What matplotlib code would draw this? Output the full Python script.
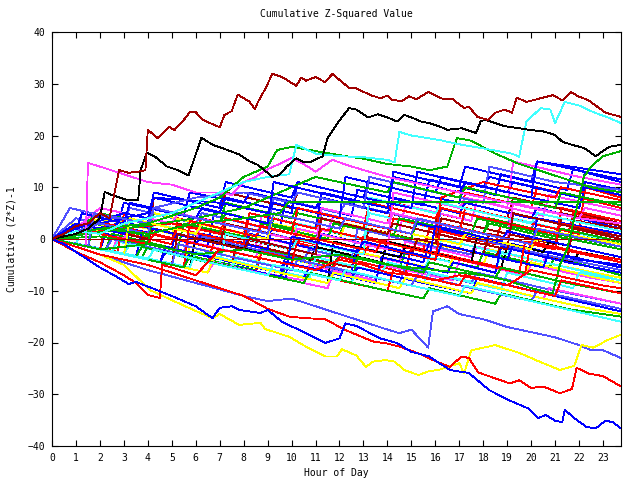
import matplotlib
matplotlib.use("Agg")
import matplotlib.pyplot as plt

# gnuplot style colours
RED = "#ff0000"
GREEN = "#00b000"
BLUE = "#0000ff"
MAGENTA = "#ff40ff"
CYAN = "#40ffff"
DKRED = "#a00000"
YELLOW = "#ffff00"
SLATE = "#5050ff"
BLACK = "#000000"

# bulk of the walks, read as (hour, value) knots
bulk_walks = [
    [(0, 0), (2, -2), (2.25, 2), (5, -1), (5.25, 4), (8, 1), (8.25, 5), (11, 2), (11.25, 6), (14, 3), (14.25, 7), (17, 4), (17.25, 9), (20, 6), (20.25, 10), (23.75, 6)],
    [(0, 0), (1.5, -1.5), (1.75, 3), (4, 0.5), (4.25, 5), (7, 2), (9, 0), (9.25, 4), (12, 1), (12.25, 3), (15, 0), (15.25, 4), (18, 1), (18.25, 3), (21, 0), (21.25, 2), (23.75, -1)],
    [(0, 0), (3.5, -3.5), (3.75, 1.5), (6.5, -1.5), (6.75, 4.5), (9.5, 1.5), (9.75, 7.5), (12.5, 4.5), (12.75, 9.5), (15.5, 6.5), (15.75, 11.5), (18.5, 8.5), (18.75, 12.5), (21.5, 9.5), (21.75, 13.5), (23.75, 11)],
    [(0, 0), (2.5, -2.5), (2.75, 0.5), (5.5, -2.5), (5.75, -0.5), (8.5, -3.5), (8.75, -0.5), (11.5, -3.5), (11.75, -1.5), (14.5, -4.5), (14.75, -0.5), (17.5, -3.5), (17.75, -1.5), (20.5, -4.5), (20.75, -2.5), (23.75, -5.5)],
    [(0, 0), (1, -1), (1.25, 2), (4, -1), (4.25, 3), (7, 0), (7.25, 4), (10, 1), (10.25, 3), (13, 0), (13.25, 5), (16, 2), (16.25, 4), (19, 1), (19.25, 4), (22, 1), (23.75, -0.5)],
    [(0, 0), (2, -2), (2.25, 1), (4, -1), (4.25, 8), (7, 5), (7.25, 9), (10, 6), (10.25, 9), (13, 6), (16, 3), (16.25, 7), (19, 4), (19.25, 8), (22, 5), (23.75, 3)],
    [(0, 0), (0.75, 3), (2, 1.5), (2.25, 4), (5, 1), (5.25, 3), (8, 0), (10, -2), (10.25, 1), (13, -2), (13.25, 0), (16, -3), (18, -5), (18.25, -2), (21, -5), (23.75, -7.5)],
    [(0, 0), (0.75, 6), (3, 3.5), (3.25, 6), (6, 3), (6.25, 5), (9, 2), (9.25, 8), (12, 5), (12.25, 7), (15, 4), (17, 2), (17.25, 5), (20, 2), (20.25, 4), (23.75, 0.5)],
    [(0, 0), (2, -2), (2.25, 1), (5, -2), (5.25, 3), (8, 0), (8.25, 5), (11, 2), (11.25, 9), (14, 6), (14.25, 13), (17, 10), (17.25, 14), (20, 11), (20.25, 15), (23.75, 11.5)],
    [(0, 0), (3.5, -3.5), (3.75, -1.5), (6.5, -4.5), (6.75, -0.5), (9.75, -3.5), (10, -0.5), (12.75, -3.5), (13, 0.5), (15.5, -2), (15.75, 2), (18.5, -1), (18.75, 3), (21.5, 0), (21.75, 5), (23.75, 2.5)],
    [(0, 0), (3.75, -3.5), (4, -1.5), (7, -4.5), (8.5, -6), (8.75, -2), (11.75, -5), (12, -3), (14.5, -5.5), (14.75, -2.5), (17.75, -5.5), (18, -2.5), (20.75, -5.5), (21, -3.5), (23.75, -7)],
    [(0, 0), (1, 2), (2, 5), (4, 3), (4.25, 9), (7, 6), (7.25, 11), (10, 8), (10.25, 11), (13, 8), (13.25, 12), (16, 9), (16.25, 12), (19, 9), (19.25, 11), (22, 8), (22.25, 11), (23.75, 9.5)],
    [(0, 0), (2.5, -2.5), (2.75, 0.5), (5.5, -2.5), (5.75, 1.5), (8.5, -1.5), (8.75, 4.5), (11.5, 1.5), (11.75, 4.5), (14.5, 1.5), (14.75, 6.5), (17.5, 3.5), (17.75, 7.5), (20.5, 4.5), (20.75, 8.5), (23.75, 5.5)],
    [(0, 0), (2.5, -2.5), (2.75, -0.5), (5.5, -3.5), (7.5, -5.5), (7.75, -1.5), (10.5, -4.5), (10.75, -1.5), (13.5, -4.5), (15.5, -6.5), (15.75, -3.5), (18.5, -6.5), (18.75, -2.5), (21.5, -5.5), (23.75, -8)],
    [(0, 0), (2, -2), (2.25, 3), (5, 0), (5.25, 3), (8, 0), (10, -2), (10.25, 2), (13, -1), (13.25, 2), (16, -1), (16.25, 4), (19, 1), (21, -1), (21.25, 5), (23.75, 2.5)],
    [(0, 0), (1, 2), (2, 4), (4, 2), (4.25, 5), (7, 2), (9, 0), (9.25, 3), (12, 0), (12.25, 3), (15, 0), (17, -2), (17.25, 1), (20, -2), (20.25, 0), (23.75, -3.5)],
    [(0, 0), (1, 4), (3, 2), (3.25, 4), (6, 1), (8, -1), (8.25, 2), (11, -1), (11.25, 5), (14, 2), (16, 0), (16.25, 6), (19, 3), (19.25, 5), (22, 2), (23.75, 0)],
    [(0, 0), (3.5, -3.5), (5.75, -5.5), (6, 0.5), (8.75, -2.5), (10.75, -4.5), (11, -1.5), (13.75, -4.5), (14, -0.5), (16.75, -3.5), (18.75, -5.5), (19, -1.5), (21.75, -4.5), (22, -2.5), (23.75, -4)],
    [(0, 0), (2.75, -2.5), (3, 5), (6, 2), (6.25, 4), (9, 1), (11, -1), (11.25, 2), (14, -1), (14.25, 4), (17, 1), (17.25, 6), (20, 3), (22, 1), (22.25, 10), (23.75, 8)],
    [(0, 0), (2.25, -2), (2.5, 1), (5.25, -2), (5.5, 3), (8.5, 0), (8.75, 3), (11.5, 0), (11.75, 3), (14.25, 0.5), (14.5, 4), (17.5, 1), (17.75, 4), (20.5, 1), (23.75, -2)],
    [(0, 0), (1, 1), (2.75, 3), (3, 7), (5.5, 4.5), (5.75, 9), (8, 7), (8.25, 9), (11, 6), (11.25, 8), (14, 5), (14.25, 8), (17, 5), (17.25, 7), (20, 4), (20.25, 6), (23.75, 2)],
    [(0, 0), (3.5, -3.5), (5.5, -5.5), (5.75, -3.5), (8.75, -6.5), (10.5, -8), (10.75, -5), (13.5, -8), (13.75, -5), (16.75, -8), (17, -4), (19.75, -7), (20, -5), (22.5, -7.5), (23.75, -8.5)],
    [(0, 0), (1, 2), (3, 0), (3.25, 3), (6, 0), (6.25, 3), (9, 0), (11, -2), (11.25, 1), (14, -2), (16, -4), (16.25, 0), (19, -3), (19.25, -1), (22, -4), (23.75, -5)],
    [(0, 0), (2.5, -2.5), (4.5, -4.5), (4.75, -1.5), (7.5, -4.5), (7.75, -0.5), (10.5, -3.5), (12.5, -5.5), (12.75, -1.5), (15.5, -4.5), (15.75, -0.5), (18.5, -3.5), (18.75, -1.5), (21.5, -4), (21.75, 2), (23.75, 0)],
    [(0, 0), (3.75, -3.5), (5.5, -5.5), (5.75, -1.5), (8.5, -4.5), (8.75, -2.5), (11.5, -5.5), (11.75, -1.5), (14.75, -4.5), (16.5, -6.5), (16.75, -3.5), (19.75, -6.5), (20, -4.5), (22.75, -7.5), (23.75, -8.5)],
    [(0, 0), (2.25, -2), (2.5, 0), (5.5, -3), (5.75, 1), (8.5, -2), (10.5, -4), (10.75, -2), (12.5, -4), (12.75, 2), (15.5, -1), (17.5, -3), (17.75, 0), (20.5, -3), (23.75, -6)],
    [(0, 0), (3, -3), (3.25, 2), (6, -1), (6.25, 1), (9, -2), (9.25, 5), (12, 2), (12.25, 4), (15, 1), (15.25, 3), (18, 0), (20, -2), (20.25, 4), (23.75, 1)],
    [(0, 0), (3.5, -3.5), (5.5, -5.5), (5.75, -3.5), (8.5, -6.5), (8.75, -2.5), (11.75, -5.5), (12, -3.5), (14.75, -6.5), (15, -1.5), (17.75, -4.5), (19.75, -6.5), (20, -0.5), (22.5, -3), (23.75, -4)],
    [(0, 0), (1, 2), (2, 5), (4, 3), (4.25, 6), (7, 3), (7.25, 7), (10, 4), (10.25, 6), (13, 3), (15, 1), (15.25, 4), (18, 1), (18.25, 4), (21, 1), (23.75, -1.5)],
    [(0, 0), (2.5, -2.5), (4.5, -4.5), (4.75, -1.5), (7.5, -4.5), (9.5, -6.5), (9.75, -3.5), (12.5, -6.5), (12.75, -1.5), (15.5, -4.5), (15.75, -0.5), (18.5, -3.5), (20.5, -5.5), (20.75, -2.5), (23.75, -5.5)],
    [(0, 0), (1, 2), (3, 0), (3.25, 3), (6, 0), (6.25, 3), (9, 0), (11, -2), (11.25, 6), (14, 3), (14.25, 5), (17, 2), (19, 0), (19.25, 7), (22, 4), (22.25, 6), (23.75, 4.5)],
    [(0, 0), (3.75, -3.5), (5.75, -5.5), (6, -2.5), (8.75, -5.5), (10.75, -7.5), (11, -3.5), (13.75, -6.5), (14, -4.5), (16.75, -7.5), (18.75, -9.5), (19, -6.5), (21.75, -9.5), (22, -6.5), (23.75, -8)],
    [(0, 0), (1, 1), (2, 2), (4, 0), (4.25, 2), (7, -1), (7.25, 3), (10, 0), (10.25, 2), (13, -1), (15, -3), (15.25, 0), (18, -3), (18.25, 1), (21, -2), (21.25, 4), (23.75, 2)],
    [(0, 0), (1, 3), (3, 1), (3.25, 3), (6, 0), (8, -2), (8.25, 1), (11, -2), (11.25, 1), (14, -2), (16, -4), (16.25, -1), (19, -4), (19.25, -1), (22, -4), (23.75, -5)],
    [(0, 0), (2, -2), (2.25, 3), (5, 0), (5.25, 2), (8, -1), (8.25, 5), (11, 2), (11.25, 4), (13, 2), (13.25, 7), (16, 4), (16.25, 6), (19, 3), (21, 1), (21.25, 3), (23.75, 0.5)],
    [(0, 0), (2.5, -2.5), (4.5, -4.5), (6.5, -6.5), (6.75, -3.5), (9.5, -6.5), (11.5, -8.5), (11.75, -5.5), (14.5, -8.5), (14.75, -5.5), (17.5, -8.5), (17.75, -6.5), (20.5, -9.5), (23.75, -12.5)],
    [(0, 0), (2, 0.5), (4, -1), (4.25, 6), (7, 3), (7.25, 5), (10, 2), (10.25, 5), (13, 2), (15, 0), (15.25, 4), (18, 1), (18.25, 3), (21, 0), (21.25, 2), (23.75, -0.5)],
    [(0, 0), (3.5, -3.5), (6.5, -6.5), (6.75, -3.5), (9.5, -6.5), (11.5, -8.5), (11.75, -0.5), (14.5, -3.5), (14.75, -1.5), (17.5, -4.5), (17.75, 0.5), (20.5, -2.5), (20.75, -0.5), (23.75, -3.5)],
    [(0, 0), (2.5, -2.5), (5.5, -5.5), (5.75, -2.5), (8.5, -5.5), (10.5, -7.5), (10.75, -5.5), (13.5, -8.5), (13.75, -3.5), (16.5, -6.5), (16.75, -4.5), (18.5, -6.5), (18.75, -1.5), (21.5, -4.5), (23.75, -6.5)],
    [(0, 0), (1, 2), (4, -1), (4.25, 1), (7, -2), (10, -5), (10.25, 0), (13, -3), (13.25, -1), (16, -4), (16.25, 3), (19, 0), (21, -2), (21.25, 6), (23.75, 3.5)],
    [(0, 0), (1, 2), (2, 6), (5, 3), (5.25, 5), (8, 2), (10, 0), (10.25, 2), (13, -1), (14, -2), (14.25, 9), (17, 6), (17.25, 8), (19, 6), (19.25, 15), (22, 12), (23.75, 10.5)],
    [(0, 0), (3, -3), (3.25, -1), (6, -4), (7, -5), (7.25, 1), (10, -2), (10.25, 0), (13, -3), (13.25, 8), (16, 5), (16.25, 7), (19, 4), (20, 3), (20.25, 5), (23.75, 1.5)],
    [(0, 0), (1, 2), (3, 5), (4, 4), (4.25, 8), (7, 5), (7.25, 8), (10, 5), (10.25, 11), (13, 8), (15, 6), (15.25, 13), (18, 10), (18.25, 12), (21, 9), (22, 8), (22.25, 13), (23.75, 11.5)],
    [(0, 0), (2, 3), (4, 5), (4.25, 8), (7, 7), (9, 5), (9.25, 7), (12, 4), (12.25, 12), (15, 9), (17, 7), (17.25, 11), (20, 8), (22, 6), (22.25, 10), (23.75, 8.5)],
    [(0, 0), (2, 3), (4, 1), (4.25, 6), (6, 8), (8, 9), (10, 7), (10.25, 9), (13, 6), (13.25, 12), (16, 9), (18, 7), (18.25, 14), (21, 11), (23.75, 9.5)],
    [(0, 0), (2, 1.5), (5, 3), (7, 1), (7.25, 4), (10, 1), (10.25, 6), (13, 3), (16, 0), (16.25, 8), (18, 11), (21, 8), (21.25, 10), (23.75, 7.5)],
    [(0, 0), (3, 2), (6, 4), (8, 6), (11, 12), (14, 9), (14.25, 11), (17, 8), (17.25, 10), (20, 7), (21, 6), (21.25, 9), (23.75, 6.5)],
    [(0, 0), (2, -2), (5, -5), (5.25, 1), (8, -2), (8.25, 0), (11, -3), (11.25, 4), (14, 1), (14.25, 3), (17, 0), (19, -2), (19.25, 5), (22, 2), (23.75, 0.5)],
    [(0, 0), (3, -3), (3.25, 4), (6, 1), (6.25, 3), (9, 0), (9.25, 5), (12, 2), (12.25, 4), (15, 1), (17, -1), (17.25, 1), (20, -2), (20.25, 2), (23.75, -1)],
    [(0, 0), (3.5, -3.5), (6.5, -6.5), (6.75, -4.5), (9.75, -7.5), (10, 0.5), (12.75, -2.5), (13, -0.5), (15.75, -3.5), (16, 2.5), (18.75, -0.5), (19, 1.5), (21.75, -1.5), (23.75, -3.5)],
    [(0, 0), (2.5, -2.5), (5.5, -5.5), (5.75, 3.5), (8.5, 0.5), (8.75, 2.5), (11.5, -0.5), (13.5, -2.5), (13.75, -0.5), (16.5, -3.5), (19.5, -6.5), (19.75, -0.5), (23.75, -4.5)],
    [(0, 0), (3.5, -3.5), (3.75, -1.5), (6.5, -4.5), (9.5, -7.5), (9.75, -5.5), (12.5, -8.5), (12.75, -3.5), (15.5, -6.5), (15.75, -4.5), (18.5, -7.5), (18.75, -5.5), (21.5, -8.5), (23.75, -10.5)],
    [(0, 0), (2.5, -2.5), (4.5, -4.5), (4.75, -2.5), (7.5, -5.5), (7.75, -3.5), (10.5, -6.5), (12.5, -8.5), (12.75, -5.5), (15.5, -8.5), (15.75, -6.5), (18.5, -9.5), (20.5, -11.5), (20.75, -9.5), (23.75, -12.5)],
    [(0, 0), (3.5, -3.5), (6.5, -6.5), (6.75, -4.5), (9.5, -7.5), (11.5, -9.5), (11.75, -6.5), (14.5, -9.5), (14.75, -7.5), (17.5, -10.5), (17.75, -8.5), (20.5, -11.5), (20.75, -9.5), (23.75, -12.5)],
    [(0, 0), (2.5, -2.5), (4.5, -4.5), (4.75, -2.5), (7.5, -5.5), (9.5, -7.5), (9.75, -4.5), (12.5, -7.5), (12.75, -5.5), (15.5, -8.5), (17.5, -10.5), (17.75, -7.5), (20.5, -10.5), (23.75, -14)],
    [(0, 0), (3.5, -3.5), (6.5, -6.5), (6.75, -3.5), (9.5, -6.5), (11.5, -8.5), (11.75, -6.5), (14.5, -9.5), (14.75, -7.5), (17.5, -10.5), (17.75, -8.5), (20.5, -11.5), (22.5, -13.5), (23.75, -14.5)],
    [(0, 0), (2, -2), (5, -5), (5.25, -1), (8, -4), (10, -6), (10.25, -4), (13, -7), (15, -9), (15.25, -7), (18, -10), (20, -12), (20.25, -10), (23.75, -13.5)],
    [(0, 0), (2, -2), (4, -4), (4.25, -2), (7, -5), (9, -7), (9.25, -5), (12, -8), (14, -10), (14.25, -6), (17, -9), (17.25, -7), (20, -10), (21, -11), (21.25, -8), (23.75, -10.5)],
    [(0, 0), (3.5, -3.5), (5.5, -5.5), (5.75, -3.5), (8.5, -6.5), (10.5, -8.5), (10.75, -6.5), (13.5, -9.5), (15.5, -11.5), (15.75, -9.5), (18.5, -12.5), (18.75, -10.5), (21.5, -13.5), (23.75, -15)],
    [(0, 0), (2, -2), (4, -4), (4.25, -2), (7, -5), (9, -7), (9.25, -5), (12, -8), (12.25, -6), (15, -9), (17, -11), (17.25, -9), (20, -12), (23.75, -16)],
    [(0, 0), (1, 1.5), (1.25, 5), (3, 3), (3.25, 7), (6, 4), (6.25, 6), (9, 3), (9.25, 11), (12, 8), (14, 6), (14.25, 12), (17, 9), (17.25, 11), (20, 8), (20.25, 15), (23.75, 12.5)],
    [(0, 0), (1.5, -1.5), (1.75, 5), (4, 3), (4.25, 6), (7, 3), (9, 1), (9.25, 5), (12, 2), (12.25, 4), (15, 1), (15.25, 4), (18, 1), (20, -1), (20.25, 2), (23.75, -1.5)],
]
bulk_colors = [RED, GREEN, BLUE, MAGENTA, CYAN, DKRED, YELLOW, SLATE, BLUE,
               RED, GREEN, BLUE, MAGENTA, CYAN, DKRED, YELLOW, SLATE, BLACK,
               RED, GREEN, BLUE, MAGENTA, CYAN, DKRED, YELLOW, SLATE, BLUE,
               RED, GREEN, BLUE, MAGENTA, CYAN, DKRED, BLUE, RED, SLATE,
               GREEN, BLACK, BLUE, RED, MAGENTA, CYAN, BLUE, BLUE, SLATE,
               RED, GREEN, DKRED, YELLOW, BLUE, RED, GREEN,
               CYAN, MAGENTA, BLUE, YELLOW, SLATE, RED, GREEN, CYAN, BLUE, SLATE]

# outlying walks, read at their own knots
top_dkred_h = [0, 0.5, 1, 1.5, 2, 2.4, 2.8, 3.2, 3.6, 3.9, 4, 4.4, 4.9, 5.1, 5.5, 5.75, 6, 6.3, 7, 7.2, 7.5, 7.75,
               8.25, 8.46, 8.6, 8.9, 9.2, 9.6, 10.2, 10.4, 10.6, 11, 11.4, 11.7, 12.4, 12.7, 13.3, 13.7, 14, 14.2,
               14.6, 14.9, 15.2, 15.7, 16.3, 16.7, 17.2, 17.4, 17.75, 18.2, 18.5, 18.9, 19.2, 19.4, 19.8, 20.4,
               20.9, 21.3, 21.65, 22, 22.4, 23.1, 23.75]
top_dkred_v = [0, 1, 2.5, 3, 5, 4, 13.3, 12.8, 13, 13.3, 21.1, 19.5, 21.7, 21, 23, 24.5, 24.5, 23, 21.6, 24, 24.7, 27.9,
               26.5, 25.1, 26.5, 29, 31.9, 31.3, 29.6, 31.2, 30.6, 31.3, 30.3, 31.9, 29.2, 29.1, 27.8, 27.2, 27.7, 26.9,
               26.6, 27.6, 27, 28.4, 27.1, 27.1, 25.3, 25.6, 23.6, 23, 24.4, 25, 24.4, 27.3, 26.5, 27.2,
               27.8, 26.8, 28.4, 27.5, 26.8, 24.4, 23.6]

top_black_h = [0, 1, 1.5, 2, 2.2, 2.5, 3.1, 3.6, 3.7, 3.96, 4.3, 4.8, 5.2, 5.7, 6.24, 6.7, 7.2, 7.83, 8.25, 8.6, 9.2,
               9.5, 9.8, 10.2, 10.5, 10.8, 11.3, 11.5, 11.86, 12.1, 12.4, 12.7, 13.2, 13.6, 14, 14.4, 14.7, 15.1,
               15.4, 15.75, 16.2, 16.5, 17.1, 17.7, 17.9, 18.1, 18.5, 18.9, 19.5, 19.9, 20.5, 21, 21.3, 21.7, 22.2,
               22.7, 23, 23.25, 23.75]
top_black_v = [0, 1, 2, 4, 9.1, 8.5, 7.6, 7.6, 13.3, 16.7, 15.9, 14, 13.4, 12.3, 19.6, 18.2, 17.4, 16.3, 15, 14.3, 12,
               12.4, 14, 15.6, 14.9, 14.9, 16, 19.5, 22, 23.5, 25.3, 25, 23.5, 24.1, 23.5, 22.7, 24, 23.3,
               22.7, 22.4, 21.7, 21.1, 21.4, 20.5, 22.8, 23, 22.4, 21.8, 21.4, 21.1, 20.8, 20.1, 18.8, 18.2, 17.6,
               16, 17, 17.8, 18.2]

cyan_h = [0, 1, 2, 3, 4, 5, 6, 7, 8, 9, 9.9, 10.2, 11, 12, 13, 14, 14.3, 14.5, 15, 16.2, 17, 18, 19.2, 19.5, 19.8,
          20.4, 20.8, 21, 21.4, 22, 22.6, 23.2, 23.75]
cyan_v = [0, 1.5, 1, 3, 4, 5, 7, 9, 11, 12, 12.5, 18.2, 16.5, 16, 15.8, 15.3, 14.8, 20.7, 20, 19.1, 18.3, 17.5, 16.5,
          15.9, 22.7, 25.3, 25, 22.4, 26.5, 25.8, 24.5, 23.5, 22.4]

magenta_h = [0, 1, 1.4, 1.5, 2, 3, 4, 5, 6, 7, 7.5, 8, 8.5, 9, 9.5, 10, 10.5, 11, 11.7, 12.5, 14, 16, 18, 20, 22, 23.75]
magenta_v = [0, -1, -1.5, 14.7, 14, 12.5, 11, 10.5, 9, 9, 8.5, 11, 12, 13.5, 14.5, 15.7, 14.5, 13, 15.3, 14, 12, 10,
             8, 6, 4, 3]

green_b_h = [0, 2, 4, 6, 7, 8, 9, 9.4, 10, 11, 12, 13, 14, 15, 15.75, 16.5, 16.9, 17.5, 18.5, 19.5, 20.5, 21.5, 22.5,
             23.75]
green_b_v = [0, 2, 3, 6, 8, 12, 14, 17.2, 17.8, 17, 16.2, 15.5, 14.5, 14, 13.3, 14, 19.5, 19, 16.5, 14.5, 13, 11.5,
             10, 9]

green_c_h = [0, 2, 4, 6, 8, 10, 12, 14, 16, 18, 19, 20, 20.9, 21.2, 21.5, 21.8, 22.2, 22.5, 23, 23.75]
green_c_v = [0, -2, -1, -3, -2, -4, -3, -5, -6, -7, -8, -9.5, -10.5, -5, -2, 4, 12, 14, 16, 17]

green_flat_h = [0, 2, 4, 6, 8, 9.5, 9.9, 23.75]
green_flat_v = [0, 2, 1, 3, 4, 5, 7.2, 7.2]

zero_h = [0, 23.75]
zero_v = [0, 0]

low_blue_h = [0, 0.5, 1, 1.5, 2, 2.7, 3.2, 3.5, 4.4, 5.2, 6, 6.7, 7, 7.5, 7.8, 8.7, 9, 9.6, 10.6, 11.4, 12, 12.25,
              12.7, 13.7, 14.4, 15, 15.75, 16.6, 17.4, 18.25, 19.1, 19.9, 20.3, 20.6, 21, 21.3, 21.4, 21.8, 22.3,
              22.7, 23.1, 23.4, 23.75]
low_blue_v = [0, -1, -2.5, -4, -5.5, -7.3, -8.7, -8.3, -9.9, -11.4, -13, -15.3, -13.3, -13, -13.7, -14.3, -13.7, -16,
              -18.2, -20.1, -19.2, -16.3, -16.8, -19.2, -20.1, -21.8, -22.7, -25.3, -25.9, -29.2, -31.2, -32.8,
              -34.6, -34, -35.1, -35.4, -33, -34.6, -36.3, -36.6, -35.1, -35.4, -36.6]

low_red_h = [0, 2, 4, 6, 8, 9, 9.9, 10.6, 11.4, 12.25, 13.4, 14, 14.5, 15.3, 15.9, 16.6, 17.1, 17.4, 17.8, 19.1,
             19.5, 20, 20.5, 21.2, 21.7, 21.9, 22.4, 23, 23.75]
low_red_v = [0, -3, -5, -8, -11, -13.5, -15, -15.3, -15.5, -17.6, -19.8, -20.2, -20.8, -22.1, -23.4, -24.7, -22.7,
             -23, -25.8, -27.9, -27.3, -28.8, -28.5, -29.8, -29, -24.9, -26, -26.5, -28.5]

low_yellow_h = [0, 1, 2, 3, 4.1, 5.75, 6.7, 7, 7.7, 7.8, 8.7, 8.9, 9.9, 10.6, 11.4, 11.9, 12.1, 12.7, 13.1, 13.4,
                13.9, 14.3, 14.7, 15.3, 15.7, 16.2, 17, 17.2, 17.5, 18.5, 19.5, 20.5, 21.2, 21.8, 22.1, 22.6, 23.2,
                23.75]
low_yellow_v = [0, -1.5, -3, -5, -9.9, -13.4, -15.3, -14.5, -16.3, -16.6, -16.2, -17.4, -18.9, -20.8, -22.7, -22.7,
                -21.3, -22.5, -24.7, -23.7, -23.4, -23.7, -25.3, -26.3, -25.6, -25.2, -24, -26, -21.5, -20.5, -22,
                -24, -25.3, -24.5, -20.5, -21, -19.5, -18.5]

low_slate_h = [0, 2, 4, 6, 8, 9, 10, 11, 12, 13, 14, 14.5, 15, 15.7, 15.9, 16.5, 17, 18, 19, 20, 21, 22, 22.5, 23,
               23.75]
low_slate_v = [0, -3, -6, -8.5, -11, -12, -11.5, -13, -14.5, -16, -17.5, -18.2, -17.5, -21, -14, -13, -14.5, -15.5,
               -17, -18, -19, -20.5, -21.5, -21.5, -23]

low_red2_h = [0, 1, 2, 3, 3.5, 4, 4.5, 4.6, 5, 6, 7, 8, 9, 10, 11, 12, 13, 14, 15, 16, 17, 18, 19, 20, 21, 22, 23,
              23.75]
low_red2_v = [0, -2.5, -4.5, -7, -8.5, -10.8, -11.4, -5, -5.5, -7, -2, -3, -4, -5, -6, -4, -5, -6.5, -7, -8, -7,
              -8, -9, -6, -7, -8, -9, -9.5]

outliers = [
    (zero_h, zero_v, DKRED),
    (green_flat_h, green_flat_v, GREEN),
    (magenta_h, magenta_v, MAGENTA),
    (green_b_h, green_b_v, GREEN),
    (green_c_h, green_c_v, GREEN),
    (cyan_h, cyan_v, CYAN),
    (low_slate_h, low_slate_v, SLATE),
    (low_yellow_h, low_yellow_v, YELLOW),
    (low_red2_h, low_red2_v, RED),
    (low_red_h, low_red_v, RED),
    (low_blue_h, low_blue_v, BLUE),
    (top_black_h, top_black_v, BLACK),
    (top_dkred_h, top_dkred_v, DKRED),
]

plt.rcParams['font.family'] = "DejaVu Sans Mono"

fig = plt.figure(figsize=(6.4, 4.8), dpi=100)
ax = fig.add_axes([52 / 640, 1 - 446 / 480, (621 - 52) / 640, (446 - 32) / 480])

for walk, col in zip(bulk_walks, bulk_colors):
    h = [p[0] for p in walk]
    v = [p[1] for p in walk]
    ax.plot(h, v, color=col, lw=0.6, antialiased=False)

for h, v, col in outliers:
    ax.plot(h, v, color=col, lw=0.6, antialiased=False)

ax.set_xlim(0, 23.75)
ax.set_ylim(-40, 40)
ax.set_xticks(range(24))
ax.set_yticks(range(-40, 41, 10))
ax.tick_params(direction="in", length=4.5, width=0.8, top=True, right=True,
               labelsize=7, pad=5)
for s in ax.spines.values():
    s.set_linewidth(0.8)

ax.set_title("Cumulative Z-Squared Value", fontsize=7, pad=11)
ax.set_xlabel("Hour of Day", fontsize=7, labelpad=4)
ax.set_ylabel("Cumulative (Z*Z)-1", fontsize=7, labelpad=8)

fig.savefig("out.png", dpi=100)
